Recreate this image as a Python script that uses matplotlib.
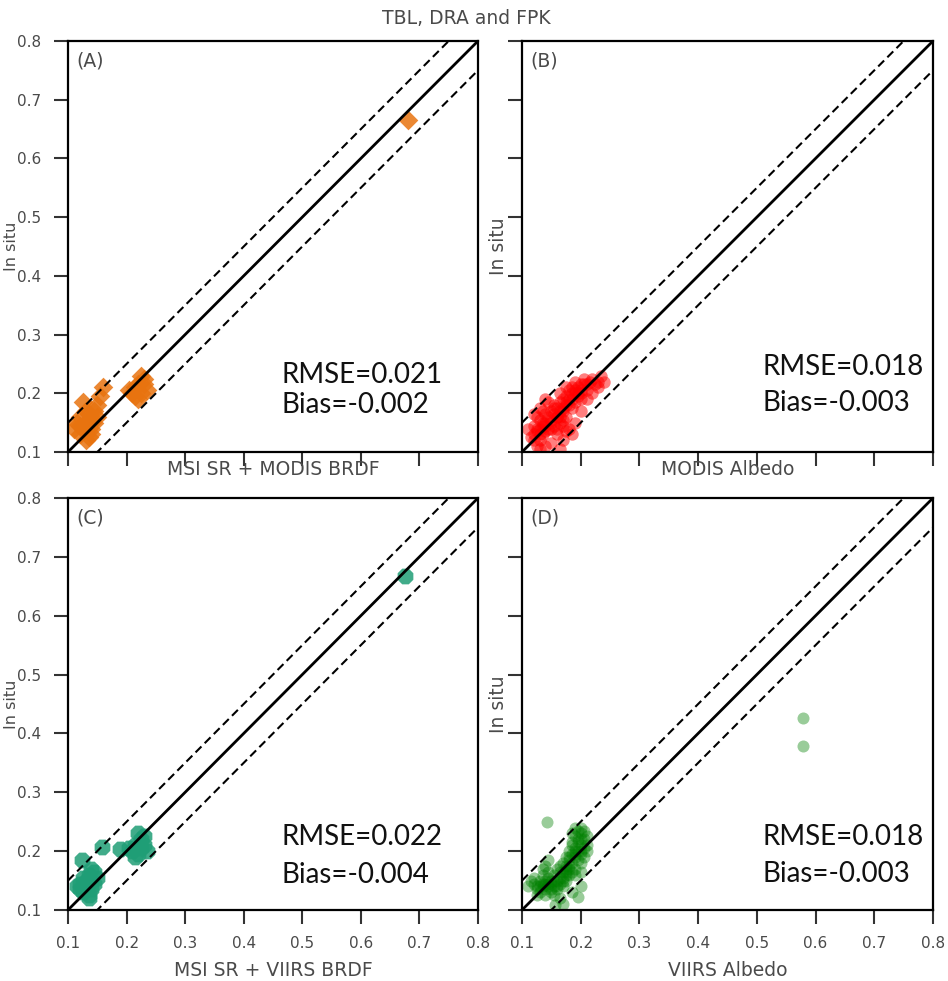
import matplotlib
matplotlib.use("Agg")
import matplotlib.pyplot as plt
import numpy as np

# ---------------- data ----------------
title = "TBL, DRA and FPK"
panel_labels = ["(A)", "(B)", "(C)", "(D)"]
x_labels = ["MSI SR + MODIS BRDF", "MODIS Albedo", "MSI SR + VIIRS BRDF", "VIIRS Albedo"]
y_label = "In situ"
stats_rmse = ["RMSE=0.021", "RMSE=0.018", "RMSE=0.022", "RMSE=0.018"]
stats_bias = ["Bias=-0.002", "Bias=-0.003", "Bias=-0.004", "Bias=-0.003"]
ticks = [0.1, 0.2, 0.3, 0.4, 0.5, 0.6, 0.7, 0.8]
tick_labels = ["0.1", "0.2", "0.3", "0.4", "0.5", "0.6", "0.7", "0.8"]
band = 0.05

a_x = [0.12, 0.125, 0.13, 0.13, 0.135, 0.14, 0.14, 0.145, 0.12, 0.115, 0.13, 0.125, 0.135,
       0.145, 0.15, 0.155, 0.16, 0.11, 0.12, 0.14, 0.15,
       0.21, 0.215, 0.22, 0.225, 0.23, 0.23, 0.225, 0.215, 0.205, 0.235, 0.22, 0.68]
a_y = [0.13, 0.14, 0.15, 0.12, 0.125, 0.14, 0.16, 0.15, 0.16, 0.15, 0.17, 0.185, 0.165,
       0.17, 0.18, 0.195, 0.21, 0.14, 0.145, 0.13, 0.16,
       0.2, 0.21, 0.19, 0.2, 0.215, 0.225, 0.23, 0.195, 0.205, 0.205, 0.215, 0.666]

b_x = [0.115, 0.12, 0.125, 0.12, 0.13, 0.135, 0.13, 0.125, 0.14, 0.145, 0.14, 0.135, 0.15,
       0.155, 0.15, 0.145, 0.16, 0.165, 0.16, 0.155, 0.17, 0.165, 0.175, 0.17, 0.18, 0.175,
       0.185, 0.18, 0.19, 0.185, 0.195, 0.19, 0.2, 0.2, 0.205, 0.21, 0.215, 0.22, 0.23, 0.24,
       0.235, 0.225, 0.14, 0.15, 0.165, 0.17, 0.175, 0.13, 0.16, 0.19, 0.2, 0.12, 0.13, 0.14,
       0.11, 0.12, 0.135, 0.145, 0.155, 0.165, 0.175, 0.185, 0.195, 0.15, 0.14, 0.13, 0.18,
       0.19, 0.185, 0.17, 0.2, 0.21, 0.22, 0.175, 0.165, 0.23, 0.125, 0.13,
       0.15, 0.16, 0.17, 0.18, 0.19, 0.2, 0.14, 0.125, 0.135, 0.155, 0.165, 0.175, 0.185,
       0.195, 0.205, 0.21, 0.17, 0.16]
b_y = [0.125, 0.13, 0.135, 0.145, 0.14, 0.13, 0.155, 0.16, 0.15, 0.14, 0.165, 0.17, 0.155,
       0.145, 0.17, 0.185, 0.16, 0.15, 0.175, 0.18, 0.17, 0.185, 0.16, 0.19, 0.18, 0.195,
       0.19, 0.205, 0.2, 0.21, 0.21, 0.22, 0.215, 0.2, 0.225, 0.215, 0.22, 0.225, 0.22, 0.22,
       0.23, 0.215, 0.11, 0.115, 0.105, 0.12, 0.135, 0.12, 0.13, 0.185, 0.19, 0.165, 0.175,
       0.19, 0.14, 0.12, 0.145, 0.16, 0.165, 0.17, 0.18, 0.2, 0.195, 0.14, 0.135, 0.13, 0.14,
       0.15, 0.13, 0.145, 0.17, 0.19, 0.2, 0.21, 0.2, 0.21, 0.11, 0.105,
       0.15, 0.16, 0.175, 0.19, 0.205, 0.205, 0.145, 0.14, 0.15, 0.175, 0.16, 0.185, 0.175,
       0.2, 0.215, 0.205, 0.155, 0.14]

c_x = [0.115, 0.12, 0.125, 0.13, 0.135, 0.14, 0.13, 0.14, 0.135, 0.14, 0.145, 0.125, 0.12,
       0.145, 0.124, 0.15, 0.135, 0.158, 0.189,
       0.21, 0.215, 0.22, 0.225, 0.23, 0.22, 0.235, 0.225, 0.215, 0.23, 0.205, 0.675]
c_y = [0.14, 0.135, 0.13, 0.14, 0.125, 0.135, 0.15, 0.15, 0.16, 0.17, 0.165, 0.155, 0.145,
       0.145, 0.185, 0.155, 0.12, 0.207, 0.203,
       0.2, 0.21, 0.195, 0.22, 0.21, 0.23, 0.2, 0.205, 0.19, 0.225, 0.205, 0.667]

d_x = [0.11, 0.115, 0.12, 0.125, 0.13, 0.13, 0.135, 0.14, 0.14, 0.145, 0.15, 0.15, 0.155,
       0.16, 0.16, 0.165, 0.17, 0.17, 0.175, 0.12, 0.135, 0.145, 0.155, 0.165, 0.175, 0.125,
       0.14, 0.155, 0.165, 0.145,
       0.18, 0.185, 0.19, 0.195, 0.2, 0.205, 0.2, 0.195, 0.19, 0.185, 0.18, 0.175, 0.19, 0.2,
       0.205, 0.21, 0.21, 0.205, 0.185, 0.195, 0.18, 0.19, 0.2, 0.195, 0.185, 0.175, 0.17,
       0.18, 0.19, 0.2, 0.21, 0.2, 0.19, 0.185,
       0.165, 0.16, 0.17, 0.175, 0.145, 0.14,
       0.125, 0.135, 0.145, 0.155, 0.165, 0.13, 0.15, 0.16, 0.17, 0.18, 0.19, 0.2, 0.195,
       0.185, 0.2, 0.19, 0.205, 0.18, 0.175, 0.15, 0.14,
       0.143, 0.195, 0.156, 0.17, 0.185, 0.2, 0.135, 0.578, 0.578]
d_y = [0.14, 0.15, 0.145, 0.135, 0.14, 0.15, 0.145, 0.135, 0.15, 0.14, 0.13, 0.145, 0.14,
       0.15, 0.135, 0.145, 0.155, 0.14, 0.15, 0.155, 0.16, 0.155, 0.16, 0.165, 0.165, 0.125,
       0.125, 0.125, 0.12, 0.165,
       0.17, 0.18, 0.19, 0.2, 0.21, 0.22, 0.23, 0.235, 0.225, 0.215, 0.2, 0.19, 0.17, 0.18,
       0.19, 0.2, 0.21, 0.235, 0.195, 0.185, 0.185, 0.205, 0.195, 0.215, 0.23, 0.175, 0.18,
       0.16, 0.16, 0.165, 0.225, 0.24, 0.24, 0.165,
       0.175, 0.17, 0.165, 0.16, 0.185, 0.175,
       0.14, 0.14, 0.145, 0.15, 0.155, 0.13, 0.135, 0.14, 0.15, 0.175, 0.2, 0.2, 0.22,
       0.21, 0.22, 0.195, 0.205, 0.19, 0.17, 0.15, 0.145,
       0.25, 0.122, 0.108, 0.11, 0.13, 0.14, 0.17, 0.427, 0.379]

series = [
    dict(x=a_x, y=a_y, marker="D", color="#e8730f", s=100, alpha=0.85),
    dict(x=b_x, y=b_y, marker="o", color="#ff0000", s=80, alpha=0.5),
    dict(x=c_x, y=c_y, marker="8", color="#1f9e76", s=150, alpha=0.85),
    dict(x=d_x, y=d_y, marker="o", color="#008000", s=75, alpha=0.4),
]
text_pos = [(0.465, 0.231, 0.180), (0.509, 0.245, 0.183),
            (0.465, 0.224, 0.159), (0.509, 0.224, 0.162)]

# ---------------- figure ----------------
W, H = 948, 981
plt.rcParams["font.family"] = ["DejaVu Sans"]
fig = plt.figure(figsize=(W / 100, H / 100), dpi=100)

boxes = [(68, 41, 478, 452), (522, 41, 933, 452), (68, 498, 478, 910), (522, 498, 933, 910)]
grey = "#4a4a4a"
for i, (l, t, r, b) in enumerate(boxes):
    ax = fig.add_axes([l / W, 1 - b / H, (r - l) / W, (b - t) / H])
    ax.set_xlim(0.1, 0.8)
    ax.set_ylim(0.1, 0.8)
    lims = np.array([0.1, 0.8])
    ax.plot(lims, lims, color="black", lw=2.0, zorder=3)
    ax.plot(lims, lims + band, color="black", lw=1.5, dashes=(4, 2.2), zorder=3)
    ax.plot(lims, lims - band, color="black", lw=1.5, dashes=(4, 2.2), zorder=3)
    sd = series[i]
    ax.scatter(sd["x"], sd["y"], marker=sd["marker"], color=sd["color"], s=sd["s"],
               alpha=sd["alpha"], linewidths=0, zorder=2, clip_on=True)
    ax.set_xticks(ticks)
    ax.set_yticks(ticks)
    ax.set_xticklabels(tick_labels)
    ax.set_yticklabels(tick_labels)
    ax.tick_params(direction="out", length=10, width=1.5, color="#333333",
                   labelsize=11, labelcolor=grey, pad=9, top=False, right=False)
    if i in (1, 3):
        ax.tick_params(labelleft=False)
    if i in (0, 1):
        ax.tick_params(labelbottom=False)
    for sp in ax.spines.values():
        sp.set_linewidth(1.6)
        sp.set_color("black")
    ax.set_xlabel(x_labels[i], fontsize=13.5, color=grey)
    if i in (0, 1):
        ax.xaxis.set_label_coords(0.5, -0.02)
    else:
        ax.xaxis.set_label_coords(0.5, -0.125)
    if i in (0, 2):
        ax.set_ylabel(y_label, fontsize=11.5, color=grey)
        ax.yaxis.set_label_coords(-(68 - 19) / 410, 0.5)
    else:
        ax.set_ylabel(y_label, fontsize=13.5, color=grey)
        ax.yaxis.set_label_coords(-0.034, 0.5)
    ax.text(0.02, 0.975, panel_labels[i], transform=ax.transAxes, fontsize=13.5,
            color=grey, ha="left", va="top")
    tx, ty1, ty2 = text_pos[i]
    ax.text(tx, ty1, stats_rmse[i], fontsize=20, family=["Lato", "DejaVu Sans"],
            color="#111111", ha="left", va="center", zorder=5)
    ax.text(tx, ty2, stats_bias[i], fontsize=20, family=["Lato", "DejaVu Sans"],
            color="#111111", ha="left", va="center", zorder=5)

fig.text(466 / W, 1 - 18 / H, title, fontsize=13.5, color=grey, ha="center", va="center")

fig.savefig("out.png", dpi=100)
